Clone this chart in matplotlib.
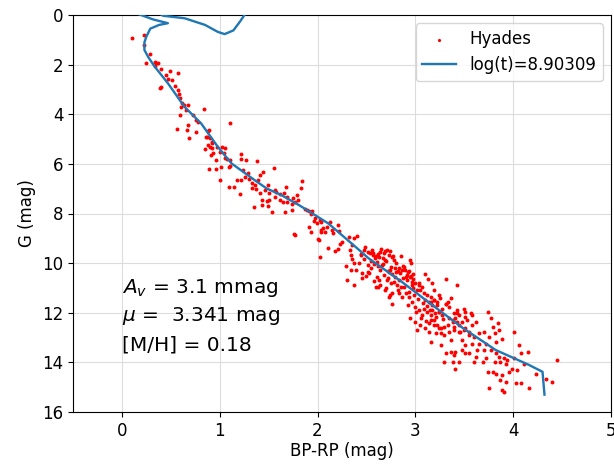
import matplotlib
matplotlib.use("Agg")
import matplotlib.pyplot as plt
import numpy as np

# Hyades members (BP-RP, G)
hy_bprp = [
    0.10, 0.23, 0.23, 0.29, 0.25, 0.34, 0.35, 0.37, 0.34, 0.40, 0.45, 0.49, 0.57, 0.47, 0.51,
    0.39, 0.40, 0.54, 0.57, 0.58, 0.59, 0.61, 0.63, 0.68, 0.60, 0.66, 0.84, 0.59, 0.73, 0.76,
    0.68, 0.78, 0.56, 0.67, 0.76, 0.89, 0.69, 0.87, 1.11, 0.92, 0.90, 0.97, 1.02, 1.05,
    # zoom 8
    0.88, 0.86, 0.90, 0.92, 0.88, 0.85, 0.92, 0.93, 0.91, 1.00, 1.04, 1.05, 1.07, 1.10, 0.96,
    0.89, 0.96, 1.01, 1.00, 1.09, 1.10, 1.22, 1.22, 1.27, 1.38, 1.24, 1.29, 1.26, 1.18, 1.22,
    1.30, 1.33, 1.36, 1.39, 1.41, 1.44, 1.55, 1.09, 1.15, 1.21, 1.33, 1.37, 1.41, 1.46, 1.50,
    1.49, 1.43, 1.48, 1.50, 1.35, 1.43, 1.49, 1.53, 1.57, 1.58, 1.62, 1.57, 1.68, 1.66, 1.69,
    1.75, 1.62, 1.65, 1.69, 1.67, 1.74, 1.77, 1.79, 1.80, 1.84, 1.83, 1.87, 1.89, 1.91, 1.97,
    1.96, 1.76, 1.77, 1.91, 1.93, 2.00, 2.04, 2.06, 2.08, 2.10, 2.02,
    # zoom 9
    1.74, 1.93, 1.94, 1.99, 2.04, 2.04, 2.13, 2.15, 2.21, 2.22, 2.16, 2.01, 2.03, 2.11, 2.18,
    2.21, 2.23, 2.25, 2.32, 2.37, 2.40, 2.35, 2.33, 2.34, 2.35, 2.37, 2.29, 2.34, 2.39, 2.30,
    2.37, 2.42, 2.45, 2.44, 2.47, 2.49, 2.52, 2.52, 2.52, 2.54, 2.56, 2.57, 2.59, 2.61, 2.63,
    2.64, 2.68, 2.71, 2.73, 2.69, 2.66, 2.64, 2.61, 2.63, 2.64, 2.76, 2.78, 2.80, 2.75, 2.73,
    2.76, 2.80, 2.83, 2.86, 2.71, 2.75, 2.78, 2.81, 2.85, 2.69, 2.76, 2.73, 2.83, 2.86, 2.93,
    2.88, 2.92, 2.90, 2.95, 2.98, 2.97, 2.95, 2.98, 2.76, 2.92,
    # zoom 10
    2.57, 2.60, 2.62, 2.67, 2.65, 2.69, 2.74, 2.77, 2.55, 2.58, 2.62, 2.67, 2.70, 2.72, 2.74,
    2.79, 2.82, 2.84, 2.89, 2.91, 2.94, 2.87, 2.91, 2.96, 2.87, 2.96, 2.85, 2.97, 3.00, 3.04,
    2.98, 3.02, 3.05, 3.07, 3.10, 3.13, 3.04, 3.09, 3.12, 3.16, 3.10, 3.14, 3.19, 3.22, 3.17,
    3.24, 3.25, 3.31, 3.43, 3.31, 3.34, 3.27, 3.24, 3.00, 3.04, 3.09, 3.12, 3.07, 3.16, 2.95,
    3.00, 3.05, 3.02, 3.10, 3.14, 3.19, 3.22, 3.26, 3.21, 3.29, 3.34, 3.38, 3.43, 3.45, 3.39,
    3.51, 3.53, 3.58, 3.62, 3.39, 3.45, 3.50, 3.55, 3.48, 3.36, 3.51, 3.58, 3.16, 3.26, 3.43,
    3.50, 3.33, 3.36, 3.17, 3.19,
    # zoom 11
    3.16, 3.19, 3.22, 3.31, 3.17, 3.24, 3.27, 3.21, 3.16, 3.19, 3.14, 3.24, 3.29, 3.26, 3.34,
    3.33, 3.38, 3.41, 3.39, 3.45, 3.46, 3.48, 3.43, 3.51, 3.57, 3.51, 3.55, 3.58, 3.60, 3.65,
    3.70, 3.74, 3.77, 3.79, 3.84, 3.81, 3.86, 3.89, 3.82, 3.75, 3.72, 3.65, 3.63, 3.70, 3.77,
    3.82, 3.86, 3.91, 3.94, 3.87, 3.81, 3.72, 3.62, 3.55, 3.51, 3.48, 3.41, 3.36, 3.31, 3.39,
    3.45, 3.38, 3.29, 3.41, 3.60, 3.69, 3.93, 4.01, 4.06, 4.08, 4.15, 4.01, 3.99, 4.04, 4.11,
    3.96, 3.89, 3.93, 3.87, 3.82, 3.74, 3.79, 3.75, 3.89, 3.91, 4.03, 4.08, 4.16, 4.23, 4.34,
    4.40, 4.45,
    # extra members in the dense part
    2.44, 2.48, 2.55, 2.50, 2.58, 2.62, 2.45, 2.53, 2.68, 2.72, 2.79, 2.83, 2.88, 2.93, 2.99,
    3.03, 3.08, 3.12, 3.15, 3.20, 2.70, 2.82, 2.97, 3.06, 3.28, 2.60, 2.74, 2.90, 3.01, 3.11,
]
hy_g = [
    0.94, 0.79, 1.21, 1.57, 1.92, 1.88, 1.94, 1.92, 2.06, 2.19, 2.42, 2.25, 2.33, 2.59, 2.62,
    2.96, 2.92, 2.86, 3.02, 3.19, 3.36, 3.54, 3.63, 3.63, 3.72, 3.83, 3.80, 4.03, 4.03, 4.23,
    4.44, 4.30, 4.60, 4.64, 4.70, 4.64, 4.97, 4.91, 4.37, 5.17, 5.31, 5.34, 5.34, 5.38,
    # zoom 8
    4.66, 4.93, 4.97, 5.11, 5.24, 5.42, 5.38, 5.58, 5.65, 5.51, 5.55, 5.78, 5.82, 5.85, 5.85,
    6.21, 6.21, 6.12, 6.65, 6.14, 6.09, 5.60, 5.82, 5.85, 5.88, 6.25, 6.38, 6.52, 6.65, 6.65,
    6.59, 6.76, 6.85, 6.65, 6.45, 6.32, 6.18, 6.95, 6.95, 7.22, 6.99, 7.03, 7.19, 7.06, 7.19,
    6.85, 7.46, 7.49, 7.46, 7.75, 7.66, 7.70, 7.93, 7.06, 7.12, 7.22, 7.33, 6.92, 7.17, 7.33,
    7.39, 7.46, 7.53, 7.53, 7.93, 7.62, 7.53, 7.26, 7.46, 6.68, 6.99, 7.80, 7.86, 7.89, 8.20,
    8.29, 8.83, 8.88, 8.54, 8.74, 9.04, 8.67, 8.60, 8.74, 8.54, 8.27,
    # zoom 9
    7.86, 8.00, 7.89, 8.40, 8.33, 8.74, 8.36, 8.67, 8.47, 8.70, 8.80, 9.07, 9.74, 9.41, 9.50,
    9.45, 9.21, 9.14, 8.94, 9.00, 8.91, 9.27, 9.48, 9.68, 9.85, 10.01, 10.12, 10.28, 10.28, 10.69,
    10.89, 10.01, 10.39, 9.68, 9.48, 9.34, 10.35, 10.08, 9.54, 9.61, 9.48, 9.68, 9.81, 9.95, 9.74,
    9.54, 9.61, 9.48, 9.68, 9.88, 10.08, 10.28, 10.55, 10.69, 10.89, 9.74, 9.88, 10.01, 10.15, 10.35,
    10.42, 10.35, 10.21, 10.28, 10.69, 10.82, 10.75, 10.89, 10.96, 11.09, 11.22, 11.36, 11.22, 11.36, 11.36,
    10.15, 10.35, 10.55, 10.55, 10.62, 10.89, 9.88, 10.42, 11.63, 11.69,
    # zoom 10
    9.58, 9.72, 9.65, 9.80, 9.43, 9.50, 9.53, 9.73, 9.92, 10.05, 10.12, 10.03, 9.90, 10.33, 10.26,
    10.20, 10.32, 10.40, 10.26, 10.47, 10.30, 10.60, 10.67, 10.50, 10.13, 9.99, 9.72, 10.75, 10.82, 10.89,
    11.02, 11.09, 11.09, 10.96, 10.42, 10.62, 10.79, 11.22, 11.29, 11.36, 11.49, 11.56, 11.49, 11.56, 11.69,
    11.29, 11.42, 10.62, 10.89, 11.63, 11.76, 11.83, 11.96, 11.76, 11.90, 11.83, 11.96, 12.10, 12.10, 12.23,
    12.37, 12.50, 12.70, 12.63, 12.43, 12.30, 12.50, 12.63, 12.83, 12.90, 12.77, 12.30, 12.37, 12.10, 12.03,
    12.16, 12.30, 12.10, 12.37, 12.57, 12.77, 12.70, 12.90, 13.10, 13.10, 13.31, 13.24, 13.17, 13.31, 11.90,
    11.83, 11.56, 11.42, 10.82, 11.09,
    # zoom 11
    11.56, 11.49, 11.69, 11.63, 11.90, 11.96, 12.10, 12.16, 12.30, 12.50, 12.77, 12.63, 12.57, 12.83, 12.23,
    12.50, 12.37, 12.23, 12.70, 12.50, 12.77, 12.37, 12.03, 11.96, 12.03, 12.63, 12.77, 12.50, 12.97, 12.83,
    12.77, 11.96, 12.23, 12.57, 12.43, 12.83, 12.70, 13.04, 13.17, 12.97, 13.24, 13.24, 13.51, 13.51, 13.51,
    13.64, 13.78, 13.84, 13.91, 13.98, 13.98, 13.84, 13.78, 13.64, 13.64, 13.51, 13.58, 13.58, 13.64, 13.71,
    13.98, 13.98, 13.98, 14.25, 13.98, 13.98, 14.05, 12.77, 13.31, 13.64, 13.58, 13.84, 14.25, 14.31, 14.05,
    14.38, 14.52, 14.79, 14.72, 14.45, 14.38, 14.38, 15.05, 15.12, 15.19, 14.85, 14.85, 15.05, 14.45, 14.65,
    14.79, 13.91,
    # extra members in the dense part
    9.62, 9.85, 10.18, 10.50, 10.74, 10.95, 10.58, 10.40, 10.48, 10.58, 10.55, 10.70, 10.98, 11.15, 11.30,
    11.45, 11.62, 11.72, 11.88, 12.00, 11.02, 11.08, 11.55, 12.20, 12.25, 10.95, 11.30, 11.20, 11.98, 12.35,
]

# isochrone log(t)=8.90309 (lower MS -> turnoff -> giants)
iso_bprp = [4.32, 4.30, 4.16, 3.82, 3.48, 3.21, 2.86, 2.52, 2.39, 2.11, 1.81, 1.63, 1.48,
            1.38, 1.12, 0.98, 0.81, 0.64, 0.47, 0.335, 0.27, 0.23, 0.23, 0.25, 0.29, 0.38,
            0.47, 0.32, 0.16, 0.10, 0.30, 0.42, 0.64, 0.85, 0.98, 1.05, 1.14, 1.21, 1.27, 1.30]
iso_g = [15.3, 14.38, 14.1, 13.5, 12.6, 11.8, 10.75, 9.8, 9.35, 8.4, 7.66, 7.26, 6.99,
         6.72, 5.98, 5.31, 4.37, 3.70, 2.75, 2.08, 1.70, 1.41, 1.10, 0.87, 0.55, 0.40,
         0.33, 0.18, -0.05, -0.4, -0.3, 0.03, 0.13, 0.40, 0.68, 0.77, 0.62, 0.25, -0.1, -0.5]

fig = plt.figure(figsize=(6.14, 4.74), dpi=100)
ax = fig.add_axes([73/614, 62/474, 538/614, 397/474])

ax.scatter(hy_bprp, hy_g, s=8, color="red", linewidths=0, label="Hyades", zorder=3)
ax.plot(iso_bprp, iso_g, color="C0", lw=1.7, label="log(t)=8.90309", zorder=4)

ax.set_xlim(-0.5, 5)
ax.set_ylim(16, 0)
ax.set_xticks(np.arange(0, 6, 1))
ax.set_yticks(np.arange(0, 17, 2))
ax.tick_params(labelsize=12)
ax.grid(True, color="#dcdcdc", lw=0.8)
ax.set_axisbelow(True)
ax.set_xlabel("BP-RP (mag)", fontsize=12, labelpad=2)
ax.set_ylabel("G (mag)", fontsize=12)

ax.text(0, 11.0, r"$A_v$ = 3.1 mmag", fontsize=14.5, va="center")
ax.text(0, 12.15, r"$\mu$ =  3.341 mag", fontsize=14.5, va="center")
ax.text(0, 13.3, "[M/H] = 0.18", fontsize=14.5, va="center")

ax.legend(loc="upper right", fontsize=12, markerscale=0.8)

fig.savefig("out.png", dpi=100)
